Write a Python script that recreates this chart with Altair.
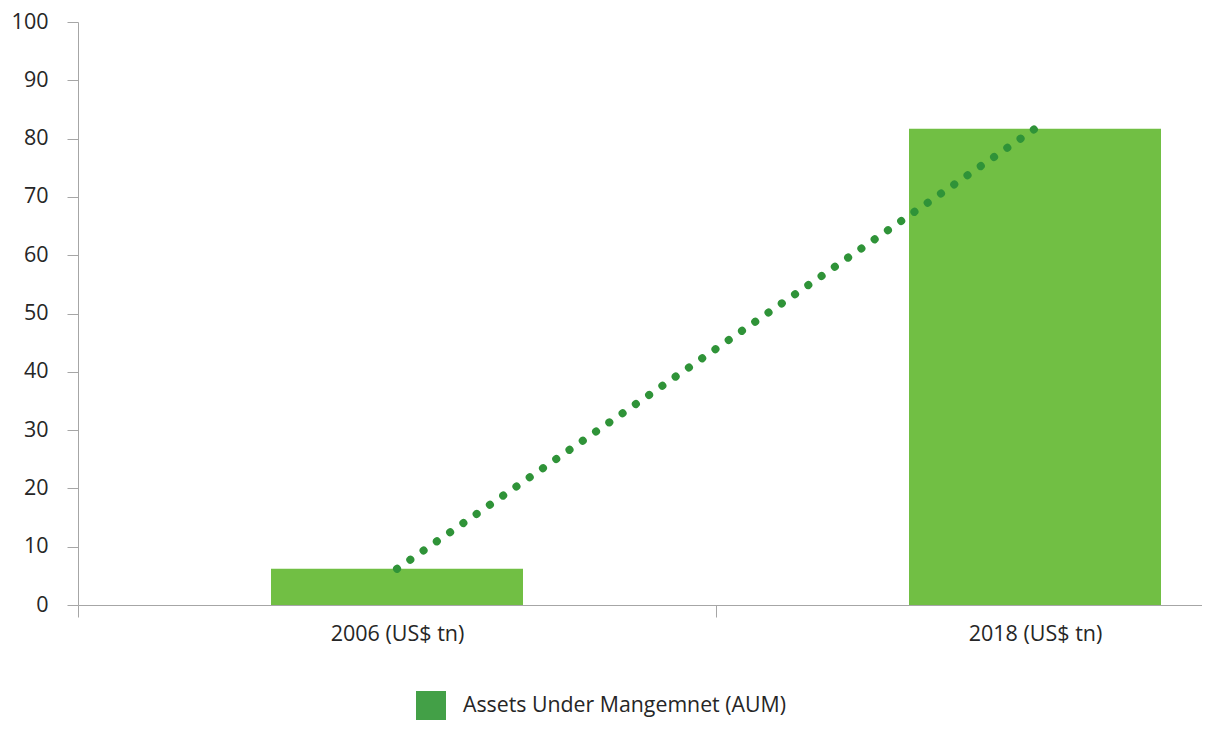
import altair as alt
import pandas as pd
import math

categories = ["2006 (US$ tn)", "2018 (US$ tn)"]
values = [6.2, 81.7]
series_name = "Assets Under Mangemnet (AUM)"

df = pd.DataFrame({"category": categories, "value": values, "series": [series_name] * len(categories)})

FONT = "Open Sans"
AXIS_COLOR = "#a6a6a6"
TEXT_COLOR = "#262626"

PLOT_H = 583
X_RANGE = 1276
STEP = X_RANGE / len(categories)

# dash period chosen so that a dot falls on (just inside) both ends of the connector
_len = math.hypot(STEP, (values[1] - values[0]) * PLOT_H / 100)
_n = round(_len / 16.2)
_gap = _len / _n - 0.1 - 0.03

x_enc = alt.X(
    "category:N",
    sort=categories,
    scale=alt.Scale(range=[0, X_RANGE], paddingInner=0, paddingOuter=0),
    axis=alt.Axis(
        title=None,
        labelAngle=0,
        tickBand="extent",
        tickSize=12,
        labelPadding=6,
        labelFontSize=21.5,
        labelFont=FONT,
        labelColor=TEXT_COLOR,
        domainColor=AXIS_COLOR,
        tickColor=AXIS_COLOR,
    ),
)
y_enc = alt.Y(
    "value:Q",
    scale=alt.Scale(domain=[0, 100], nice=False),
    axis=alt.Axis(
        title=None,
        values=list(range(0, 101, 10)),
        grid=False,
        tickSize=11,
        labelPadding=19,
        labelFontSize=21.5,
        labelFont=FONT,
        labelColor=TEXT_COLOR,
        domainColor=AXIS_COLOR,
        tickColor=AXIS_COLOR,
    ),
)

bars = alt.Chart(df).mark_bar(size=252, color="#71bf44").encode(x=x_enc, y=y_enc)

line = alt.Chart(df).mark_line(
    color="#2f9338", strokeWidth=8, strokeDash=[0.1, _gap], strokeCap="round"
).encode(x=alt.X("category:N", sort=categories), y="value:Q")

legend_layer = alt.Chart(df).mark_square(size=0, filled=True, opacity=1).encode(
    x=alt.X("category:N", sort=categories),
    y="value:Q",
    color=alt.Color(
        "series:N",
        scale=alt.Scale(domain=[series_name], range=["#43a047"]),
        legend=alt.Legend(
            title=None,
            orient="none",
            legendX=338,
            legendY=669,
            padding=0,
            symbolType="square",
            symbolSize=900,
            symbolStrokeWidth=0,
            symbolOpacity=1,
            labelFontSize=21.3,
            labelFont=FONT,
            labelColor=TEXT_COLOR,
            labelOffset=17,
            labelLimit=1000,
        ),
    ),
)

chart = (
    alt.layer(bars, line, legend_layer)
    .properties(
        width=1124,
        height=PLOT_H,
        autosize=alt.AutoSizeParams(type="none"),
        padding={"left": 70, "top": 14, "right": 0, "bottom": 115},
    )
    .configure_view(stroke=None)
)

chart.save("out.html", embed_options={"renderer": "svg", "actions": False})
